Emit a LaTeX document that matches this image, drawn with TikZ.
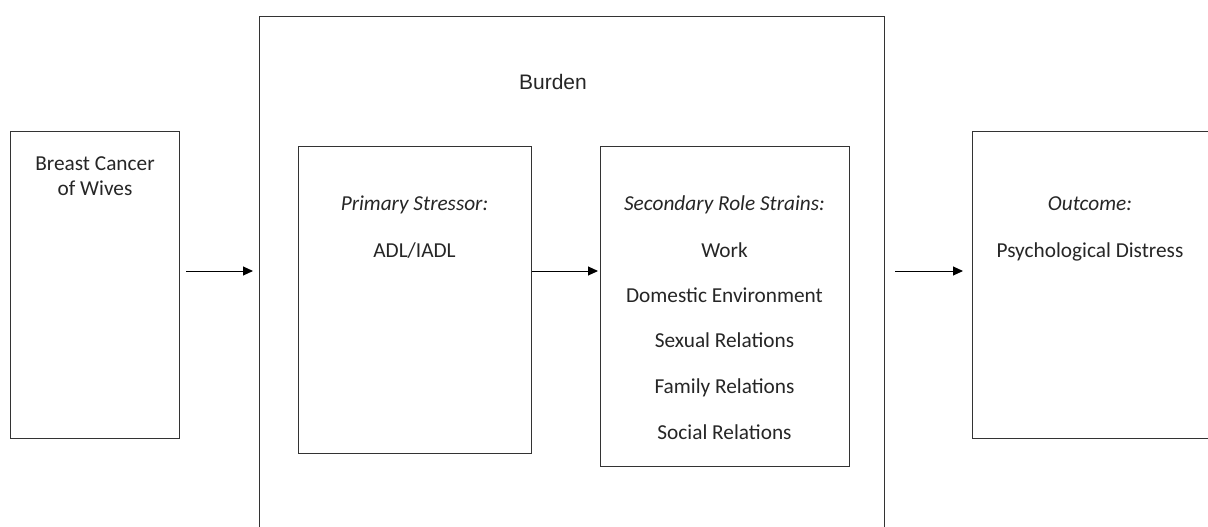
\documentclass[tikz,border=0pt]{standalone}
\usepackage{fontspec}
\setmainfont{Carlito}
\newfontfamily\arialfont{Liberation Sans}
\usetikzlibrary{arrows.meta}
\begin{document}
\begin{tikzpicture}[x=1pt,y=-1pt,
  boxstyle/.style={draw=black!80,line width=1.1pt,fill=none},
  txt/.style={inner sep=0pt,anchor=base,font=\fontsize{21.3}{26}\selectfont,text=black!85},
  conn/.style={draw=black,line width=1pt,-{Triangle[length=10pt,width=9pt]},shorten <=6pt,shorten >=6pt}]
\useasboundingbox (0,0) rectangle (1208,527);
\clip (0,0) rectangle (1208,527);
\fill[white] (0,0) rectangle (1208,527);
% boxes
\node[boxstyle,inner sep=0pt,minimum width=169pt,minimum height=307pt,anchor=north west] (cancer) at (10,131) {};
\node[boxstyle,inner sep=0pt,minimum width=625pt,minimum height=540pt,anchor=north west] (burden) at (259,16) {};
\node[boxstyle,inner sep=0pt,minimum width=233pt,minimum height=307pt,anchor=north west] (primary) at (298,146) {};
\node[boxstyle,inner sep=0pt,minimum width=249pt,minimum height=320pt,anchor=north west] (secondary) at (600,146) {};
\node[boxstyle,inner sep=0pt,minimum width=240pt,minimum height=307pt,anchor=north west] (outcome) at (972,131) {};
% texts
\node[txt] (t1) at (95,170) {Breast Cancer};
\node[txt] (t2) at (95,195) {of Wives};
\node[txt,font=\arialfont\fontsize{21}{24}\selectfont] (tb) at (553,89) {Burden};
\node[txt] (p1) at (414.5,210) {\itshape Primary Stressor:};
\node[txt] (p2) at (414.5,257) {ADL/IADL};
\node[txt] (s1) at (724.5,210) {\itshape Secondary Role Strains:};
\node[txt] (s2) at (724.5,257) {Work};
\node[txt] (s3) at (724.5,302) {Domestic Environment};
\node[txt] (s4) at (724.5,347) {Sexual Relations};
\node[txt] (s5) at (724.5,393) {Family Relations};
\node[txt] (s6) at (724.5,439) {Social Relations};
\node[txt] (o1) at (1090,210) {\itshape Outcome:};
\node[txt] (o2) at (1090,257) {Psychological Distress};
% arrows
\coordinate (ay) at (0,271);
\draw[conn] (cancer.east |- ay) -- (burden.west |- ay);
\draw[conn,shorten <=0pt,shorten >=2pt] (primary.east |- ay) -- (secondary.west |- ay);
\draw[conn,shorten <=10pt,shorten >=9pt] (burden.east |- ay) -- (outcome.west |- ay);
\end{tikzpicture}
\end{document}
